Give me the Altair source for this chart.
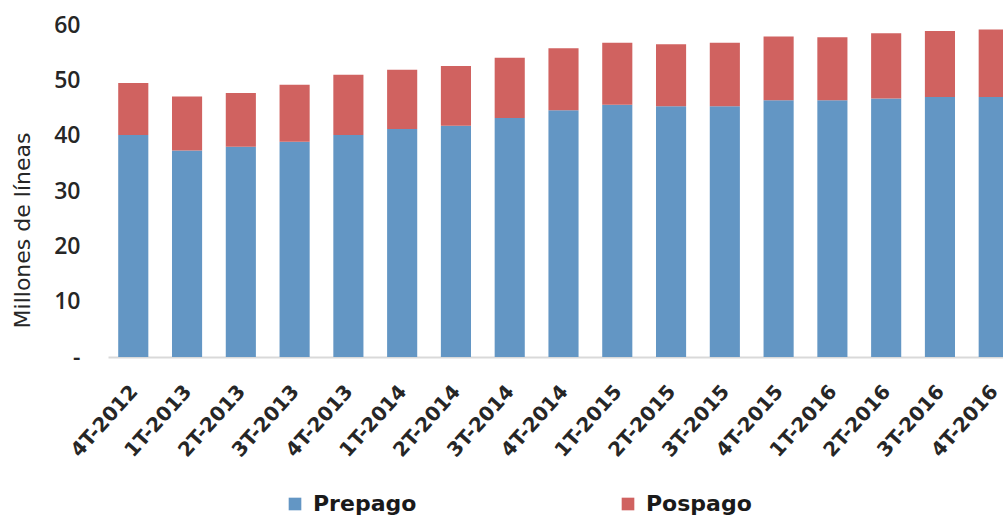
import altair as alt
import pandas as pd

categories = ["4T-2012", "1T-2013", "2T-2013", "3T-2013", "4T-2013", "1T-2014",
              "2T-2014", "3T-2014", "4T-2014", "1T-2015", "2T-2015", "3T-2015",
              "4T-2015", "1T-2016", "2T-2016", "3T-2016", "4T-2016"]
prepago = [40.1, 37.3, 38.0, 38.9, 40.1, 41.2, 41.8, 43.2, 44.6, 45.6, 45.3, 45.3,
           46.4, 46.4, 46.7, 47.0, 47.0]
pospago = [9.4, 9.8, 9.7, 10.3, 10.9, 10.7, 10.8, 10.9, 11.2, 11.2, 11.2, 11.5,
           11.5, 11.4, 11.8, 11.9, 12.2]
series = ["Prepago", "Pospago"]
colors = ["#6396C4", "#D06260"]
y_ticks = [0, 10, 20, 30, 40, 50, 60]

rows = []
for i, c in enumerate(categories):
    rows.append({"periodo": c, "serie": series[0], "valor": prepago[i], "orden": 0})
    rows.append({"periodo": c, "serie": series[1], "valor": pospago[i], "orden": 1})
df = pd.DataFrame(rows)

FONT = "DejaVu Sans"
TICKFONT = "Open Sans"

chart = alt.Chart(df).mark_bar().encode(
    x=alt.X("periodo:N", sort=categories,
            scale=alt.Scale(paddingInner=0.44, paddingOuter=0.19, range=[0, 911]),
            axis=alt.Axis(title=None, labelAngle=-48, labelAlign="right",
                          labelBaseline="middle", labelPadding=31, labelOffset=1,
                          ticks=False,
                          domain=True, domainColor="#d9d9d9", domainWidth=2,
                          labelFont=FONT, labelFontSize=20, labelFontWeight="bold",
                          labelColor="#262626")),
    y=alt.Y("valor:Q", stack="zero",
            scale=alt.Scale(domain=[0, 60], nice=False),
            axis=alt.Axis(title="Millones de líneas", values=y_ticks, grid=False,
                          domain=False, ticks=False, labelPadding=28,
                          labelExpr="datum.value == 0 ? '-' : datum.label",
                          labelFont=TICKFONT, labelFontSize=23, labelFontWeight=600,
                          labelColor="#262626",
                          titleFont=FONT, titleFontSize=22, titleFontWeight="normal",
                          titleColor="#262626", titleAngle=-90, titleX=-86, titleY=205,
                          titleAlign="center", titleBaseline="middle")),
    color=alt.Color("serie:N", sort=series,
                    scale=alt.Scale(domain=series, range=colors),
                    legend=alt.Legend(title=None, orient="none", direction="horizontal",
                                      legendX=176, legendY=468, symbolType="square",
                                      symbolSize=160, symbolStrokeWidth=0,
                                      labelFont=FONT, labelFontSize=22,
                                      labelFontWeight="bold", labelColor="#1a1a1a",
                                      labelOffset=7, columnPadding=200)),
    order=alt.Order("orden:Q"),
).properties(
    width=895, height=332,
    background="white",
    autosize=alt.AutoSizeParams(type="none"),
    padding={"left": 108, "top": 25, "right": 0, "bottom": 161},
).configure_view(stroke=None)

chart.save("out.html", embed_options={"renderer": "svg", "actions": False})
